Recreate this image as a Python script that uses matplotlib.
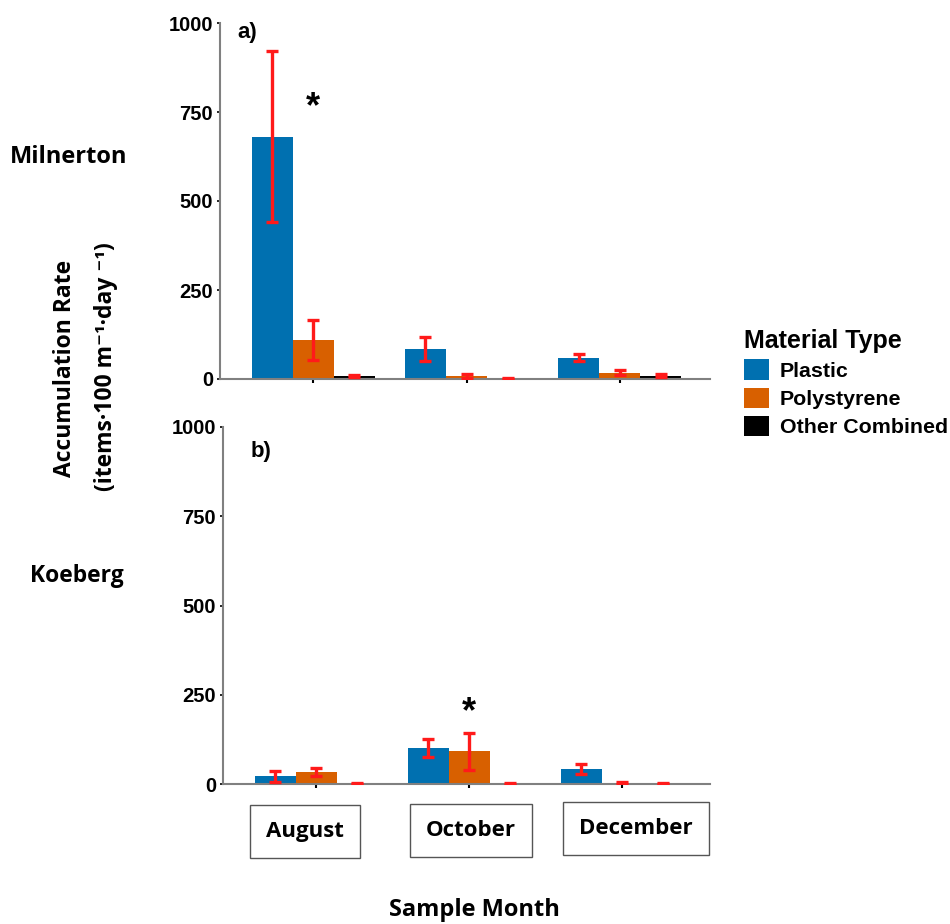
import matplotlib
matplotlib.use("Agg")
import matplotlib.pyplot as plt
from matplotlib.patches import Patch
import numpy as np

# Accumulation rates (items per 100 m per day), mean and error
months = ["August", "October", "December"]
materials = ["Plastic", "Polystyrene", "Other Combined"]

milnerton_plastic = [680, 84, 60]
milnerton_poly = [110, 8, 18]
milnerton_other = [9, 2, 9]
milnerton_plastic_err = [240, 33, 10]
milnerton_poly_err = [57, 5, 7]
milnerton_other_err = [3, 2, 4]

koeberg_plastic = [22, 102, 42]
koeberg_poly = [34, 92, 3]
koeberg_other = [1, 1, 1]
koeberg_plastic_err = [15, 25, 14]
koeberg_poly_err = [11, 52, 3]
koeberg_other_err = [2, 3, 2]

# significance markers: (month index, y value)
milnerton_star = (0, 762)
koeberg_star = (1, 200)

BLUE = "#0070B0"
ORANGE = "#D86000"
BLACK = "#000000"
RED = "#FF1A1A"
AXIS_GRAY = "#808080"

TICK_FONT = "Liberation Sans"
LABEL_FONT = ["Open Sans", "DejaVu Sans"]

W, H = 950, 924
fig = plt.figure(figsize=(W / 100, H / 100), dpi=100)
fig.patch.set_facecolor("white")


def px_axes(left, top, right, bottom):
    return fig.add_axes([left / W, 1 - bottom / H, (right - left) / W, (bottom - top) / H])


def draw_panel(ax, series, errs, star, tag, tag_pos, xlim):
    x = np.arange(len(months))
    width = 0.268
    colors = [BLUE, ORANGE, BLACK]
    for i, (vals, err, col) in enumerate(zip(series, errs, colors)):
        pos = x + (i - 1) * width
        ax.bar(pos, vals, width=width, color=col, zorder=2)
        ax.errorbar(pos, vals, yerr=err, fmt="none", ecolor=RED, elinewidth=2.4,
                    capsize=4.5, capthick=2.4, zorder=3)
    ax.set_xlim(*xlim)
    ax.set_ylim(0, 1000)
    ax.set_yticks([0, 250, 500, 750, 1000])
    ax.set_xticks(x)
    ax.set_xticklabels([])
    for side in ("top", "right"):
        ax.spines[side].set_visible(False)
    for side in ("left", "bottom"):
        ax.spines[side].set_color(AXIS_GRAY)
        ax.spines[side].set_linewidth(1.5)
    ax.tick_params(axis="y", length=2, width=1.2, color="black", pad=3)
    ax.tick_params(axis="x", length=3, width=1.5, color="black")
    for lab in ax.get_yticklabels():
        lab.set_fontfamily(TICK_FONT)
        lab.set_fontweight("bold")
        lab.set_fontsize(14.5)
    ax.text(star[0], star[1], "*", ha="center", va="center", fontsize=26,
            fontweight="bold", family=TICK_FONT)
    ax.text(tag_pos[0], tag_pos[1], tag, transform=ax.transAxes, ha="left",
            va="center", fontsize=16, fontweight="bold", family=TICK_FONT)


ax_top = px_axes(220, 23, 710, 379)
draw_panel(ax_top,
           [milnerton_plastic, milnerton_poly, milnerton_other],
           [milnerton_plastic_err, milnerton_poly_err, milnerton_other_err],
           milnerton_star, "a)", (0.035, 0.972), (-0.61, 2.59))

ax_bot = px_axes(223, 427, 710, 784)
draw_panel(ax_bot,
           [koeberg_plastic, koeberg_poly, koeberg_other],
           [koeberg_plastic_err, koeberg_poly_err, koeberg_other_err],
           koeberg_star, "b)", (0.0575, 0.93), (-0.608, 2.575))

# site names and shared y label
fig.text(69 / W, 1 - 157 / H, "Milnerton", ha="center", va="center",
         fontsize=17, fontweight="bold", family=LABEL_FONT)
fig.text(77 / W, 1 - 576 / H, "Koeberg", ha="center", va="center",
         fontsize=16.5, fontweight="bold", family=LABEL_FONT)
fig.text(65 / W, 1 - 368 / H, "Accumulation Rate", ha="center", va="center",
         rotation=90, fontsize=16.5, fontweight="bold", family=LABEL_FONT)
fig.text(106 / W, 1 - 367 / H, "(items\u00b7100 m\u207b\u00b9\u00b7day \u207b\u00b9)",
         ha="center", va="center", rotation=90, fontsize=16.5, fontweight="bold",
         family=LABEL_FONT)

# month boxes below the lower panel
box_x = [305, 471, 636]
box_y = [831, 830, 828]
for m, bx, by in zip(months, box_x, box_y):
    fig.text(bx / W, 1 - by / H, m, ha="center", va="center", fontsize=16,
             fontweight="bold", family=LABEL_FONT,
             bbox=dict(boxstyle="square,pad=0.72", facecolor="white",
                       edgecolor="#555555", linewidth=1.0))

fig.text(474 / W, 1 - 910 / H, "Sample Month", ha="center", va="center",
         fontsize=17, fontweight="bold", family=LABEL_FONT)

# legend
handles = [Patch(facecolor=c, edgecolor="none") for c in (BLUE, ORANGE, BLACK)]
leg = fig.legend(handles, materials, loc="upper left",
                 bbox_to_anchor=(744 / W, 1 - 329 / H), frameon=False,
                 title="Material Type", alignment="left",
                 prop=dict(family=TICK_FONT, weight="bold", size=15.4),
                 handlelength=1.17, handleheight=1.12, handletextpad=0.5,
                 labelspacing=0.3, borderaxespad=0, borderpad=0)
leg.get_title().set_fontfamily(TICK_FONT)
leg.get_title().set_fontweight("bold")
leg.get_title().set_fontsize(18)

fig.savefig("out.png", dpi=100, facecolor="white")
